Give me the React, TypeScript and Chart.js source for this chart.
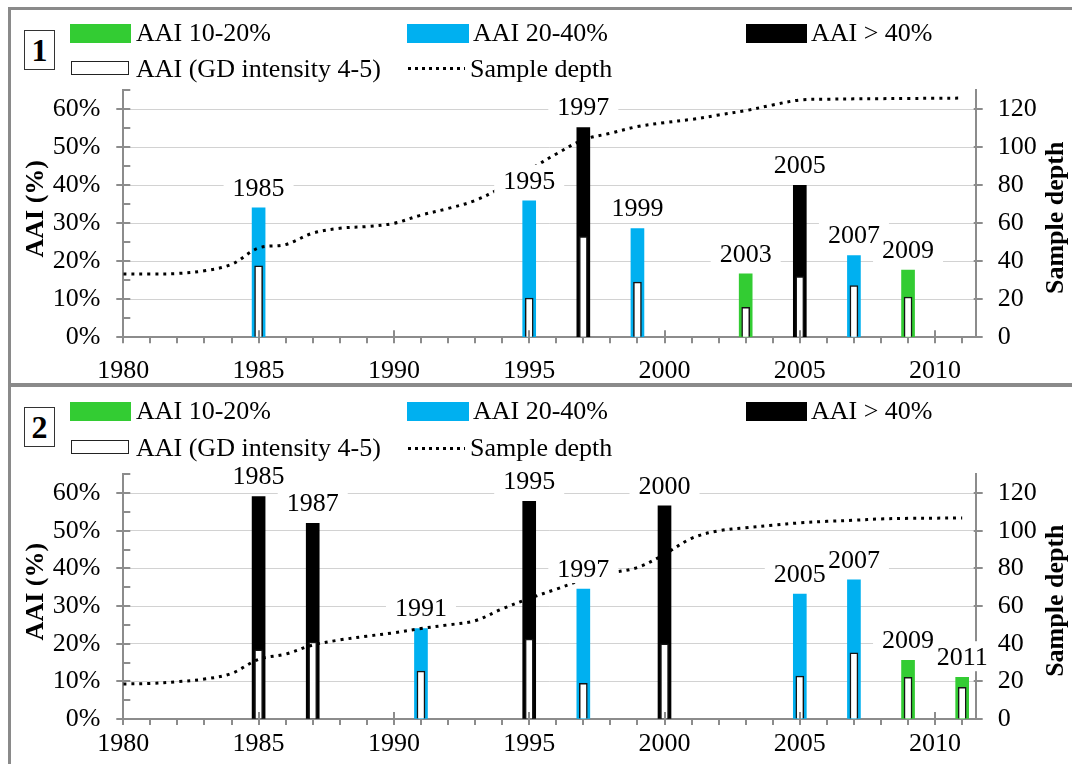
import React, { useEffect, useRef } from 'react';
import { Chart, registerables } from 'chart.js';

Chart.register(...registerables);

const FONT = "'Liberation Serif', 'Times New Roman', Times, serif";
const AXIS_GRAY = '#8c8c8c';
const GRID_GRAY = '#d2d2d2';
const GREEN = '#33cc33';
const BLUE = '#00b0f0';
const BLACK = '#000000';

// ---------- data ----------
const YEARS = [
  1980, 1981, 1982, 1983, 1984, 1985, 1986, 1987, 1988, 1989, 1990, 1991, 1992, 1993, 1994, 1995,
  1996, 1997, 1998, 1999, 2000, 2001, 2002, 2003, 2004, 2005, 2006, 2007, 2008, 2009, 2010, 2011,
];

const X_TICK_LABELS = ['1980', '1985', '1990', '1995', '2000', '2005', '2010'];
const Y_TICK_LABELS = ['0%', '10%', '20%', '30%', '40%', '50%', '60%'];
const Y2_TICK_LABELS = ['0', '20', '40', '60', '80', '100', '120'];

const LEGEND_GREEN = 'AAI 10-20%';
const LEGEND_BLUE = 'AAI 20-40%';
const LEGEND_BLACK = 'AAI > 40%';
const LEGEND_WHITE = 'AAI (GD intensity 4-5)';
const LEGEND_LINE = 'Sample depth';
const Y_TITLE = 'AAI (%)';
const Y2_TITLE = 'Sample depth';

// Panel 1
const P1_DEPTH = [
  33.3, 33.3, 33.6, 35, 38.4, 47, 48.8, 54.8, 57.4, 58.3, 60, 64.3, 67.8, 72, 79, 88,
  96.5, 104, 107.4, 110.9, 113, 114.7, 117, 119.3, 122.3, 124.9, 125.3, 125.5, 125.6, 125.7, 125.8, 125.9,
];
const P1_GREEN_YEARS = [2003, 2009];
const P1_GREEN = [16.7, 17.7];
const P1_BLUE_YEARS = [1985, 1995, 1999, 2007];
const P1_BLUE = [34.1, 35.9, 28.6, 21.5];
const P1_BLACK_YEARS = [1997, 2005];
const P1_BLACK = [55.2, 40];
const P1_WHITE_YEARS = [1985, 1995, 1997, 1999, 2003, 2005, 2007, 2009];
const P1_WHITE = [18.8, 10.3, 26.5, 14.5, 7.9, 16.0, 13.6, 10.6];

// Panel 2
const P2_DEPTH = [
  18.6, 18.9, 19.8, 21.2, 24.2, 31.7, 34.5, 39.3, 42, 44, 45.8, 48.1, 50, 52.2, 58.5, 64,
  69, 74, 77.5, 80.5, 87.5, 96, 100, 101.6, 103, 104.2, 105, 105.6, 106.3, 106.6, 106.7, 106.8,
];
const P2_GREEN_YEARS = [2009, 2011];
const P2_GREEN = [15.6, 11.1];
const P2_BLUE_YEARS = [1991, 1997, 2005, 2007];
const P2_BLUE = [24, 34.5, 33.2, 37];
const P2_BLACK_YEARS = [1985, 1987, 1995, 2000];
const P2_BLACK = [59.1, 52.0, 57.8, 56.6];
const P2_WHITE_YEARS = [1985, 1987, 1991, 1995, 1997, 2000, 2005, 2007, 2009, 2011];
const P2_WHITE = [18.4, 20.4, 12.7, 21.2, 9.5, 20.0, 11.4, 17.6, 11.1, 8.4];

type PanelData = {
  depth: number[];
  greenYears: number[]; green: number[];
  blueYears: number[]; blue: number[];
  blackYears: number[]; black: number[];
  whiteYears: number[]; white: number[];
};

const PANEL1: PanelData = {
  depth: P1_DEPTH,
  greenYears: P1_GREEN_YEARS, green: P1_GREEN,
  blueYears: P1_BLUE_YEARS, blue: P1_BLUE,
  blackYears: P1_BLACK_YEARS, black: P1_BLACK,
  whiteYears: P1_WHITE_YEARS, white: P1_WHITE,
};
const PANEL2: PanelData = {
  depth: P2_DEPTH,
  greenYears: P2_GREEN_YEARS, green: P2_GREEN,
  blueYears: P2_BLUE_YEARS, blue: P2_BLUE,
  blackYears: P2_BLACK_YEARS, black: P2_BLACK,
  whiteYears: P2_WHITE_YEARS, white: P2_WHITE,
};

const pts = (xs: number[], ys: number[]) => xs.map((x, i) => ({ x, y: ys[i] }));

type Layout = { height: number; padTop: number; xHeight: number; xPad: number };

const decorPlugin = {
  id: 'decor',
  afterDraw(chart: any) {
    const { ctx, chartArea: a, scales } = chart;
    const xs = scales.x, ys = scales.y, y2s = scales.y2;
    ctx.save();
    // tick marks
    ctx.strokeStyle = AXIS_GRAY;
    ctx.lineWidth = 2;
    ctx.beginPath();
    YEARS.forEach((yr) => {
      const px = Math.round(xs.getPixelForValue(yr));
      const major = X_TICK_LABELS.includes(String(yr));
      ctx.moveTo(px, a.bottom - (major ? 7 : 0));
      ctx.lineTo(px, a.bottom + 6);
    });
    for (let v = 0; v <= 65; v += 5) {
      const py = Math.round(ys.getPixelForValue(v));
      const major = Y_TICK_LABELS.includes(v + '%');
      ctx.moveTo(a.left - (major ? 7 : 0), py);
      ctx.lineTo(a.left + 7, py);
    }
    Y2_TICK_LABELS.forEach((t) => {
      const py = Math.round(y2s.getPixelForValue(Number(t)));
      ctx.moveTo(a.right - 2, py);
      ctx.lineTo(a.right + 7, py);
    });
    ctx.stroke();

    // axis titles
    const mid = (a.top + a.bottom) / 2;
    ctx.fillStyle = '#000';
    ctx.font = `bold 26px ${FONT}`;
    ctx.textAlign = 'center';
    ctx.textBaseline = 'alphabetic';
    ctx.save();
    ctx.translate(a.left - 80, mid - 5);
    ctx.rotate(-Math.PI / 2);
    ctx.fillText(Y_TITLE, 0, 0);
    ctx.restore();
    ctx.save();
    ctx.translate(a.right + 87, mid + 4);
    ctx.rotate(-Math.PI / 2);
    ctx.fillText(Y2_TITLE, 0, 0);
    ctx.restore();

    // year labels over coloured bars: backgrounds first, then texts
    ctx.font = `26px ${FONT}`;
    ctx.textAlign = 'center';
    const items: { txt: string; cx: number; cy: number; w: number }[] = [];
    [2, 3, 4].forEach((di) => {
      const meta = chart.getDatasetMeta(di);
      const ds = chart.data.datasets[di];
      meta.data.forEach((el: any, j: number) => {
        const txt = String((ds.data[j] as any).x);
        const w = ctx.measureText(txt).width;
        items.push({ txt, cx: el.x, cy: el.y - 21, w });
      });
    });
    ctx.fillStyle = '#ffffff';
    items.forEach((it) => ctx.fillRect(it.cx - it.w / 2 - 9, it.cy - 15, it.w + 18, 30));
    ctx.fillStyle = '#000000';
    items.forEach((it) => ctx.fillText(it.txt, it.cx, it.cy + 8.8));
    ctx.restore();
  },
};

function makeConfig(d: PanelData, L: Layout): any {
  const tickFont = { family: FONT, size: 26 };
  return {
    type: 'bar',
    data: {
      datasets: [
        {
          type: 'line',
          label: LEGEND_LINE,
          data: pts(YEARS, d.depth),
          yAxisID: 'y2',
          borderColor: '#000',
          borderWidth: 3,
          borderDash: [3, 5],
          pointRadius: 0,
          tension: 0.35,
          fill: false,
          order: 0,
        },
        {
          type: 'bar',
          label: LEGEND_WHITE,
          data: pts(d.whiteYears, d.white),
          yAxisID: 'y',
          backgroundColor: '#ffffff',
          borderColor: '#141414',
          borderWidth: 1.5,
          barThickness: 8,
          grouped: false,
          order: 1,
        },
        {
          type: 'bar',
          label: LEGEND_GREEN,
          data: pts(d.greenYears, d.green),
          yAxisID: 'y',
          backgroundColor: GREEN,
          barThickness: 13,
          grouped: false,
          order: 2,
        },
        {
          type: 'bar',
          label: LEGEND_BLUE,
          data: pts(d.blueYears, d.blue),
          yAxisID: 'y',
          backgroundColor: BLUE,
          barThickness: 13,
          grouped: false,
          order: 2,
        },
        {
          type: 'bar',
          label: LEGEND_BLACK,
          data: pts(d.blackYears, d.black),
          yAxisID: 'y',
          backgroundColor: BLACK,
          barThickness: 13,
          grouped: false,
          order: 2,
        },
      ],
    },
    options: {
      animation: false,
      responsive: false,
      maintainAspectRatio: false,
      events: [],
      layout: { padding: { top: L.padTop, left: 0, right: 0, bottom: 0 } },
      plugins: { legend: { display: false }, tooltip: { enabled: false } },
      scales: {
        x: {
          type: 'linear',
          min: 1980,
          max: 2011.5,
          offset: false,
          afterFit: (s: any) => { s.height = L.xHeight; },
          ticks: {
            stepSize: 1,
            includeBounds: false,
            autoSkip: false,
            maxRotation: 0,
            minRotation: 0,
            padding: L.xPad,
            color: '#000',
            font: tickFont,
            callback: (v: any) => (X_TICK_LABELS.includes(String(v)) ? String(v) : ''),
          },
          grid: { display: true, drawOnChartArea: false, drawTicks: false, offset: false },
          border: { display: true, color: AXIS_GRAY, width: 2 },
        },
        y: {
          type: 'linear',
          position: 'left',
          min: 0,
          max: 65,
          afterFit: (s: any) => { s.width = 123.3; },
          ticks: {
            stepSize: 5,
            includeBounds: false,
            autoSkip: false,
            padding: 23,
            color: '#000',
            font: tickFont,
            callback: (v: any) => {
              const s = Math.round(v) + '%';
              return Y_TICK_LABELS.includes(s) ? s : '';
            },
          },
          grid: {
            drawTicks: false,
            lineWidth: 1,
            color: (c: any) => {
              const v = c.tick ? c.tick.value : 0;
              return v > 0 && Y_TICK_LABELS.includes(Math.round(v) + '%') ? GRID_GRAY : 'rgba(0,0,0,0)';
            },
          },
          border: { display: true, color: AXIS_GRAY, width: 2 },
        },
        y2: {
          type: 'linear',
          position: 'right',
          min: 0,
          max: 130,
          afterFit: (s: any) => { s.width = 1072 - 975.7; },
          ticks: {
            stepSize: 20,
            includeBounds: false,
            autoSkip: false,
            padding: 22,
            color: '#000',
            font: tickFont,
            callback: (v: any) => (Y2_TICK_LABELS.includes(String(Math.round(v))) ? String(Math.round(v)) : ''),
          },
          grid: { drawOnChartArea: false, drawTicks: false },
          border: { display: true, color: AXIS_GRAY, width: 2 },
        },
      },
    },
    plugins: [decorPlugin],
  };
}

function ChartPanel({ data, top, layout }: { data: PanelData; top: number; layout: Layout }) {
  const ref = useRef<HTMLCanvasElement>(null);
  useEffect(() => {
    const chart = new Chart(ref.current as HTMLCanvasElement, makeConfig(data, layout));
    return () => chart.destroy();
  }, []);
  return (
    <canvas
      ref={ref}
      width={1072}
      height={layout.height}
      style={{ position: 'absolute', left: 0, top, width: 1072, height: layout.height }}
    />
  );
}

const textStyle = (left: number, capTop: number): React.CSSProperties => ({
  position: 'absolute',
  left,
  top: capTop - 4.6,
  fontFamily: FONT,
  fontSize: 26,
  lineHeight: '26px',
  whiteSpace: 'nowrap',
  color: '#000',
});

function Legend({ row1Cap, swatchTop, row2Cap, whiteTop, dotsY }: { row1Cap: number; swatchTop: number; row2Cap: number; whiteTop: number; dotsY: number }) {
  const sw = (left: number, width: number, color: string): React.CSSProperties => ({
    position: 'absolute', left, top: swatchTop, width, height: 19, background: color,
  });
  return (
    <>
      <div style={sw(70, 61, GREEN)} />
      <div style={textStyle(136, row1Cap)}>{LEGEND_GREEN}</div>
      <div style={sw(407, 62, BLUE)} />
      <div style={textStyle(473, row1Cap)}>{LEGEND_BLUE}</div>
      <div style={sw(746, 61, BLACK)} />
      <div style={textStyle(811, row1Cap)}>{LEGEND_BLACK}</div>
      <div
        style={{
          position: 'absolute', left: 71, top: whiteTop, width: 58, height: 14,
          border: '1.5px solid #222', boxSizing: 'border-box', background: '#fff',
        }}
      />
      <div style={textStyle(136, row2Cap)}>{LEGEND_WHITE}</div>
      <div
        style={{
          position: 'absolute', left: 408, top: dotsY - 1.5, width: 57, height: 3,
          background: 'repeating-linear-gradient(to right, #000 0px, #000 3px, transparent 3px, transparent 7px)',
        }}
      />
      <div style={textStyle(470, row2Cap)}>{LEGEND_LINE}</div>
    </>
  );
}

function NumberBox({ top, label }: { top: number; label: string }) {
  return (
    <div
      style={{
        position: 'absolute', left: 24, top, width: 31, height: 40,
        border: '1.5px solid #333', boxSizing: 'border-box', background: '#fff',
        display: 'flex', alignItems: 'center', justifyContent: 'center',
        fontFamily: FONT, fontWeight: 'bold', fontSize: 32, lineHeight: '32px', color: '#000',
      }}
    >
      {label}
    </div>
  );
}

export default function App() {
  return (
    <div
      style={{
        position: 'absolute', left: 0, top: 0, width: 1072, height: 764,
        overflow: 'hidden', background: '#fff',
      }}
    >
      <div style={{ position: 'absolute', left: 8, top: 7, width: 1200, height: 380, border: '3px solid #8a8a8a', boxSizing: 'border-box' }} />
      <div style={{ position: 'absolute', left: 8, top: 383, width: 1200, height: 500, border: '3px solid #8a8a8a', boxSizing: 'border-box' }} />
      <ChartPanel data={PANEL1} top={0} layout={{ height: 386, padTop: 90.3, xHeight: 48.7, xPad: 18 }} />
      <ChartPanel data={PANEL2} top={386} layout={{ height: 378, padTop: 88.3, xHeight: 45, xPad: 9.5 }} />
      <Legend row1Cap={25} swatchTop={23.5} row2Cap={60.5} whiteTop={61} dotsY={68.5} />
      <Legend row1Cap={403} swatchTop={401.7} row2Cap={440} whiteTop={440} dotsY={448} />
      <NumberBox top={30} label="1" />
      <NumberBox top={407} label="2" />
    </div>
  );
}
